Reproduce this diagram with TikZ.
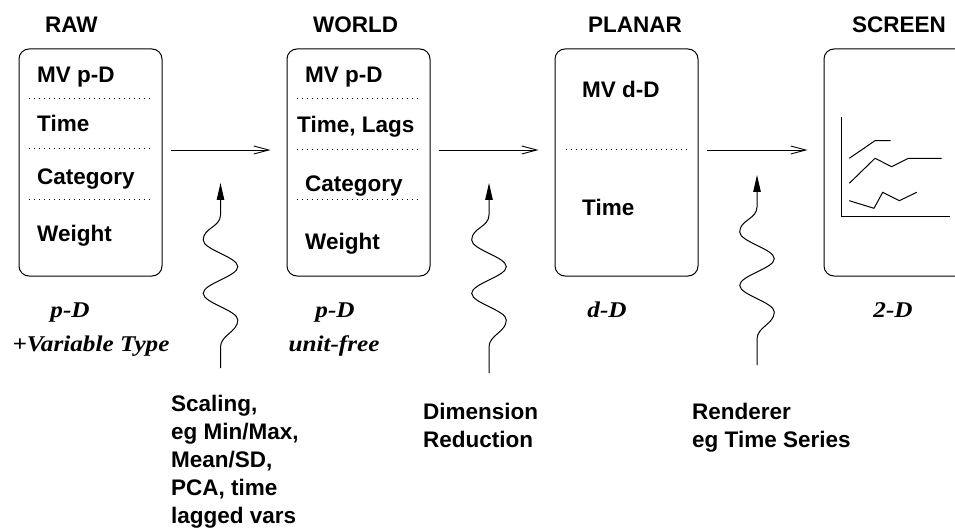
\documentclass[tikz,border=0pt]{standalone}
\usepackage{fontspec}
\setmainfont{Liberation Sans}
\newfontfamily\slabfont{Liberation Serif}[FakeStretch=1.12]
\usetikzlibrary{arrows.meta,calc}

\tikzset{
  stage/.style={draw, line width=1pt, rounded corners=10pt,
    minimum width=143pt, minimum height=227pt, inner sep=0pt},
  title/.style={anchor=base west, inner sep=0pt,
    font=\fontsize{22.5}{27}\selectfont\bfseries},
  field/.style={anchor=base west, inner sep=0pt,
    font=\fontsize{22.5}{27}\selectfont\bfseries},
  dim/.style={anchor=base, inner sep=0pt,
    font=\fontsize{22.5}{27}\selectfont\slabfont\bfseries\itshape},
  note/.style={anchor=north west, inner sep=0pt, align=left,
    font=\fontsize{22.5}{28}\selectfont\bfseries},
  sep/.style={line width=0.9pt, dash pattern=on 0.9pt off 4.1pt},
  flow/.style={line width=0.9pt, -{Straight Barb[length=15pt,width=8pt]},
    shorten <=8pt, shorten >=16pt},
  chart/.style={line width=1pt},
  wave/.style={line width=1pt, -{Triangle[length=17pt,width=7.5pt]}},
  % wavy arrow, origin at its tip, #1 = distance from tip to foot
  pics/wiggle/.style={code={
    \draw[wave] (0,#1) -- (0,164)
      .. controls (0,152) and (17.3,149) .. (17.3,137)
      .. controls (17.3,127.3) and (-17.3,120) .. (-17.3,110.3)
      .. controls (-17.3,100.6) and (17.3,93.4) .. (17.3,83.7)
      .. controls (17.3,74) and (-17.3,66.7) .. (-17.3,57)
      .. controls (-17.3,45) and (0,44) .. (0,32) -- (0,0);
  }}
}

\begin{document}
\begin{tikzpicture}[x=1pt,y=-1pt]
\useasboundingbox (0,0) rectangle (955,529);
\clip (0,0) rectangle (955,529);

% stage boxes
\node[stage] (raw)    at (90.5,162.5)  {};
\node[stage] (world)  at (358.5,162.5) {};
\node[stage] (planar) at (626.5,162.5) {};
\node[stage] (screen) at (895.5,162.5) {};

% titles
\node[title] (rawT)    at (45,33)  {RAW};
\node[title] (worldT)  at (313,33) {WORLD};
\node[title] (planarT) at (588,33) {PLANAR};
\node[title] (screenT) at (852,33) {SCREEN};

% RAW fields
\node[field] (rawA) at (37,83)  {MV p-D};
\node[field] (rawB) at (37,132) {Time};
\node[field] (rawC) at (37,185) {Category};
\node[field] (rawE) at (37,242) {Weight};
\draw[sep] ($(raw.north west)+(10,50)$)  -- ($(raw.north east)+(-10,50)$);
\draw[sep] ($(raw.north west)+(10,100)$) -- ($(raw.north east)+(-10,100)$);
\draw[sep] ($(raw.north west)+(10,151)$) -- ($(raw.north east)+(-10,151)$);

% WORLD fields
\node[field] (worldA) at (305,83)  {MV p-D};
\node[field] (worldB) at (297,133) {Time, Lags};
\node[field] (worldC) at (305,192) {Category};
\node[field] (worldE) at (305,250) {Weight};
\draw[sep] ($(world.north west)+(10,50)$)  -- ($(world.north east)+(-10,50)$);
\draw[sep] ($(world.north west)+(10,101)$) -- ($(world.north east)+(-10,101)$);
\draw[sep] ($(world.north west)+(10,151)$) -- ($(world.north east)+(-10,151)$);

% PLANAR fields
\node[field] (planarA) at (582,98)  {MV d-D};
\node[field] (planarB) at (582,216) {Time};
\draw[sep] ($(planar.north west)+(11,101)$) -- ($(planar.north east)+(-10,101)$);

% SCREEN: little time-series chart
\draw[chart] (841,117) -- (841,217) -- (950,217);
\draw[chart] (849.3,158.3) -- (875,140.7) -- (890.7,140.7);
\draw[chart] (849.3,183.3) -- (875,158.3) -- (891.7,166.7) -- (908.3,158.3) -- (941.7,158.3);
\draw[chart] (849.3,200.7) -- (874,208.3) -- (882.7,192.3) -- (899.3,200.7) -- (916.7,192.3);

% pipeline arrows
\draw[flow] ([yshift=12.5pt]raw.east)    -- ([yshift=12.5pt]world.west);
\draw[flow] ([yshift=12.5pt]world.east)  -- ([yshift=12.5pt]planar.west);
\draw[flow] ([yshift=12.5pt]planar.east) -- ([yshift=12.5pt]screen.west);

% dimensionality labels
\node[dim] (rawD)    at (70,317)  {p-D};
\node[dim] (rawV)    at (91,351)  {+Variable Type};
\node[dim] (worldD)  at (335,317) {p-D};
\node[dim] (worldU)  at (334,351) {unit-free};
\node[dim] (planarD) at (607,317) {d-D};
\node[dim] (screenD) at (893,317) {2-D};

% transformation arrows
\coordinate (tipA) at (220.5,183);
\coordinate (tipB) at (489,183);
\coordinate (tipC) at (757,175);
\pic at (tipA) {wiggle=185};
\pic at (tipB) {wiggle=190};
\pic at (tipC) {wiggle=190};

% transformation notes
\node[note] (scaling) at (171,395) {Scaling,\\eg Min/Max,\\Mean/SD,\\PCA, time\\lagged vars};
\node[note] (dimred)  at (423,403) {Dimension\\Reduction};
\node[note] (render)  at (692,403) {Renderer\\eg Time Series};
\end{tikzpicture}
\end{document}
